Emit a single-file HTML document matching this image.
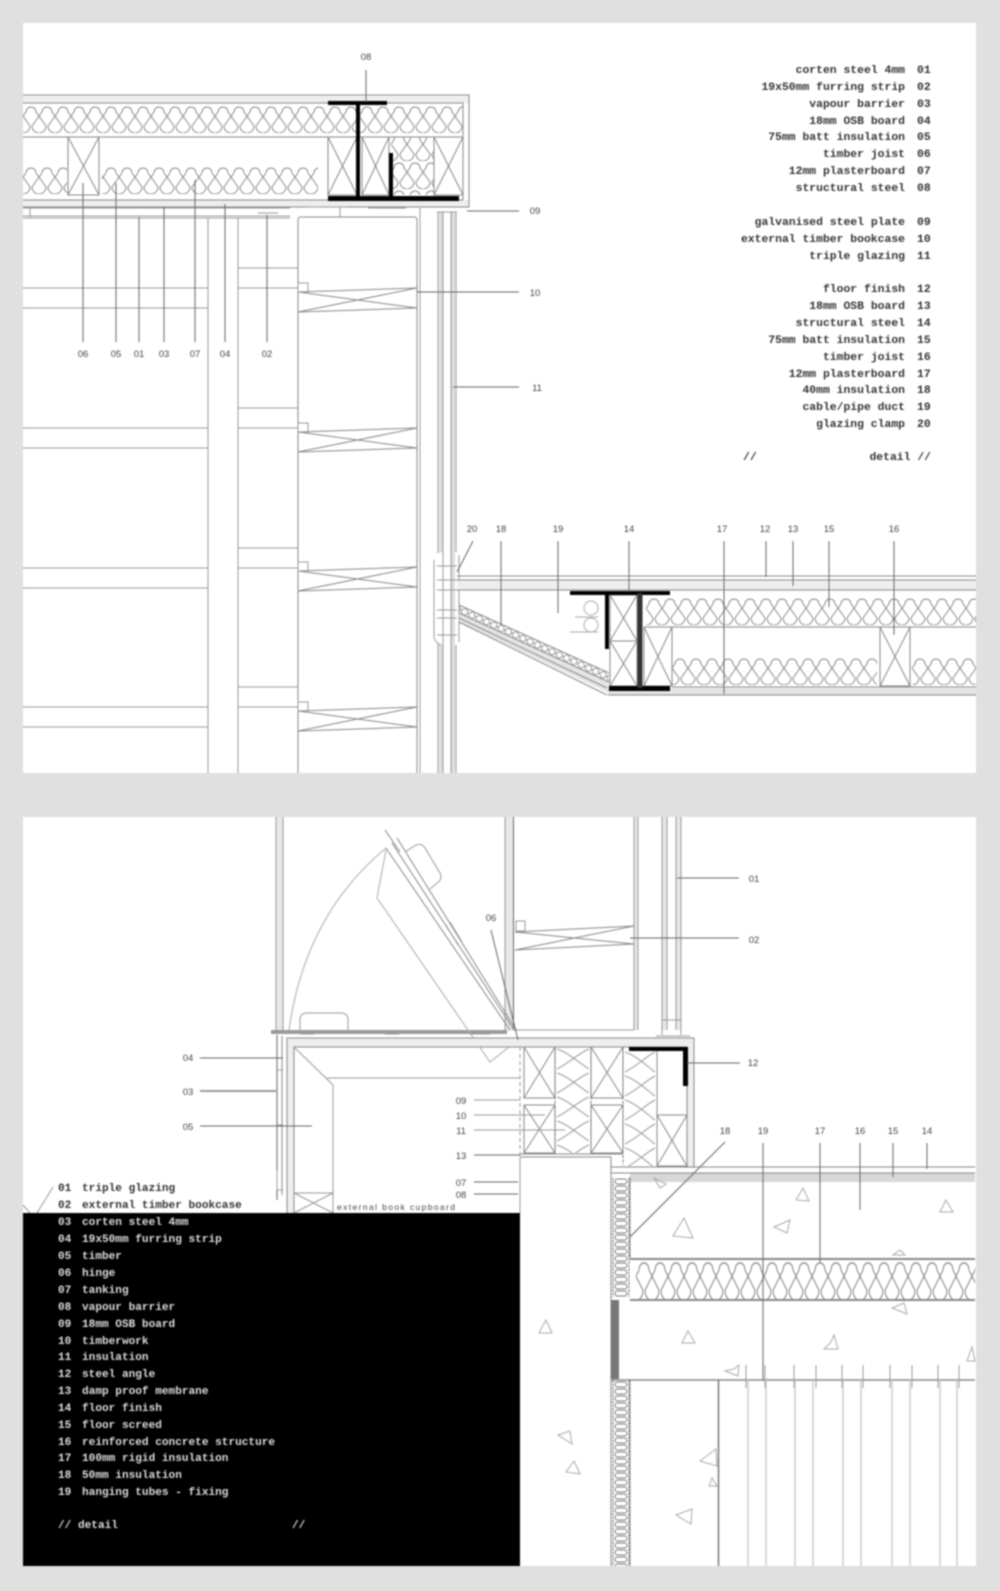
<!DOCTYPE html>
<html><head><meta charset="utf-8"><style>
html,body{margin:0;padding:0;background:#e0e0e0;width:1000px;height:1591px;overflow:hidden}
svg{display:block;filter:blur(.8px)}
text{font-family:"Liberation Mono",monospace;font-size:11.4px;fill:#333;font-weight:bold}
.n{font-family:"Liberation Sans",sans-serif;font-size:9.5px;fill:#444;font-weight:normal;text-anchor:middle}
.w text,text.w{fill:#ddd;font-size:11.1px}
.l{stroke:#666;stroke-width:1;fill:none}
.g{stroke:#999;stroke-width:1;fill:none}
.d{stroke:#888;stroke-width:1;fill:none}
.t{stroke:#aaa;stroke-width:1;fill:none}
.b{fill:#000}
</style></head><body>
<svg width="1000" height="1591" viewBox="0 0 1000 1591" xmlns="http://www.w3.org/2000/svg">
<defs>
<pattern id="p" width="16" height="28" patternUnits="userSpaceOnUse"><path d="M3,7A5,5 0 0 1 13,7M-7,21A7,7 0 0 0 7,21M9,21A7,7 0 0 0 23,21M13,7L23,21M19,7L9,21M-3,7L7,21M3,7L-7,21" fill="none" stroke="#888" stroke-width="1"/></pattern>
<pattern id="p1" href="#p" patternTransform="translate(23,105)"/>
<pattern id="p2" href="#p" patternTransform="translate(23,166)"/>
<pattern id="p3" href="#p" patternTransform="translate(646,597)"/>
<pattern id="p4" href="#p" patternTransform="translate(672,657)"/>
<pattern id="p5" href="#p" patternTransform="translate(636,1260) scale(1,1.45)"/>
<pattern id="z" width="36" height="24" patternUnits="userSpaceOnUse" patternTransform="translate(555,1047)"><path d="M2,2C14,6 24,16 34,22M34,2C24,6 14,16 2,22" fill="none" stroke="#999"/></pattern>
<pattern id="z2" width="34" height="24" patternUnits="userSpaceOnUse" patternTransform="translate(623,1050)"><path d="M2,2C14,6 24,16 32,22M32,2C24,6 14,16 2,22" fill="none" stroke="#999"/></pattern>
<pattern id="s" width="18" height="7" patternUnits="userSpaceOnUse" patternTransform="translate(612,1178)"><rect x="3" y="1" width="12" height="5" rx="2.5" fill="none" stroke="#777"/><path d="M1 0V7M17 0V7" stroke="#777" stroke-dasharray="2 1"/></pattern>
<pattern id="h" width="8" height="8" patternUnits="userSpaceOnUse" patternTransform="translate(459,605) rotate(24.4)"><path d="M0,0L8,8M8,0L0,8" stroke="#999" fill="none"/></pattern>
<g id="j"><path class="d" d="M298 292L417 288M298 312L417 308M298 292L417 308M298 312L417 288"/><path class="g" d="M298 283h10v9h-10z"/></g>
<g id="bay"><path class="g" d="M23 288H208M23 308H208M238 288H298M238 268H298"/></g>
<clipPath id="c1"><rect x="23" y="23" width="953" height="750"/></clipPath>
</defs>
<rect width="1000" height="1591" fill="#e0e0e0"/>
<rect x="23" y="23" width="953" height="750" fill="#fff"/>
<rect x="23" y="817" width="953" height="749" fill="#fff"/>

<!-- TOP PANEL -->
<g clip-path="url(#c1)">
<path d="M23 96H469V103H23z" fill="#eee"/>
<path d="M23 200H469V207H23z" fill="#eee"/>
<path class="d" d="M23 95H469V207H23M23 103H463V200H23M23 137H463"/>
<rect x="23" y="105" width="440" height="29" fill="url(#p1)"/>
<rect x="23" y="166" width="44" height="29" fill="url(#p2)"/>
<rect x="102" y="166" width="216" height="29" fill="url(#p2)"/>
<rect x="391" y="137" width="43" height="58" fill="url(#p1)"/>
<path class="d" d="M68 137H99V195H68zM68 137L99 195M99 137L68 195"/>
<path class="d" d="M328 137H357V195H328zM328 137L357 195M357 137L328 195M362 137H389V195H362zM362 137L389 195M389 137L362 195M434 137H463V195H434zM434 137L463 195M463 137L434 195"/>
<path class="b" d="M328 101H387V105H328zM356 105H360V196H356zM389 153H393V196H389zM328 196H459V201H328z"/>
<path class="g" d="M23 208H290M23 216H290M23 218H290M30 208V217M258 208h20M258 213h20M306 207h40M340 207v10M368 208h38"/>
<path class="g" d="M208 218V773M238 218V773"/>
<use href="#bay"/><use href="#bay" y="140"/><use href="#bay" y="280"/><use href="#bay" y="419"/>
<path class="d" d="M298 773V220Q298 217 301 217H414Q417 217 417 220V773"/><path class="g" d="M420 208V773"/>
<use href="#j"/><use href="#j" y="140"/><use href="#j" y="279"/><use href="#j" y="419"/>
<path d="M439 212h4V773h-4zM451 212h4V773h-4z" fill="#ddd"/>
<path class="g" d="M438 212V773M443 212V773M451 212V773M456 212V773M437 212H457"/>
<path d="M434 557Q437 552 443 552V645Q437 645 434 640zM455 552H459V645H455z" fill="#fff"/>
<path class="g" d="M434 560V638Q436 643 441 645M459 555V642M437 566H457M437 580H457M437 590H457M437 610H457M437 618H457M437 635H457M443 552V645M451 552V645"/>
<path d="M457 580H976V590H457z" fill="#eee"/>
<path class="d" d="M457 576H976M457 580H976M457 590H976"/>
<rect x="646" y="597" width="330" height="29" fill="url(#p3)"/>
<path class="d" d="M644 627H976"/>
<rect x="672" y="657" width="205" height="29" fill="url(#p4)"/>
<rect x="912" y="657" width="64" height="29" fill="url(#p4)"/>
<path d="M608 688H976V695H608z" fill="#e4e4e4"/><path class="d" d="M672 687H976M608 695H976"/>
<path d="M459 605L609 673V682L459 613z" fill="url(#h)"/>
<path d="M459 613L609 682V693L459 622z" fill="#e4e4e4"/>
<path class="d" d="M459 605L609 673M459 613L609 682M459 618L607 688M459 622L607 695"/>
<path class="d" d="M880 627H910V686H880zM880 627L910 686M910 627L880 686"/>
<path class="d" d="M610 595H637V641H610zM610 595L637 641M637 595L610 641M610 641H637V686H610zM610 641L637 686M637 641L610 686M644 627H672V686H644zM644 627L672 686M672 627L644 686"/>
<path class="b" d="M570 591H670V595H570zM605 591H609V649H605zM609 686H670V691H609z"/><path d="M637.500 593H642.500V688H637.500z" fill="#333"/>
<circle cx="591" cy="608" r="7" class="t"/><circle cx="591" cy="625" r="7" class="t"/><path class="t" d="M575 617H598M570 632H598"/>
<!-- leaders top -->
<path class="l" d="M366 70V102M83 183V342M116 183V342M139 217V342M164 207V342M195 180V342M225 204V342M267 215V342"/>
<path class="l" d="M467 211H519M417 292H519M453 387H519"/>
<path class="l" d="M473 541L457 572M501 541V625M558 541V613M629 541V592M724 541V694M766 541V577M793 541V586M829 541V607M894 541V635"/>
</g>
<g class="n-g">
<text class="n" x="366" y="60">08</text><text class="n" x="83" y="357">06</text><text class="n" x="116" y="357">05</text><text class="n" x="139" y="357">01</text><text class="n" x="164" y="357">03</text><text class="n" x="195" y="357">07</text><text class="n" x="225" y="357">04</text><text class="n" x="267" y="357">02</text>
<text class="n" x="535" y="214">09</text><text class="n" x="535" y="296">10</text><text class="n" x="537" y="391">11</text>
<text class="n" x="472" y="532">20</text><text class="n" x="501" y="532">18</text><text class="n" x="558" y="532">19</text><text class="n" x="629" y="532">14</text><text class="n" x="722" y="532">17</text><text class="n" x="765" y="532">12</text><text class="n" x="793" y="532">13</text><text class="n" x="829" y="532">15</text><text class="n" x="894" y="532">16</text>
</g>
<g text-anchor="end">
<text x="905" y="73">corten steel 4mm</text>
<text x="905" y="90">19x50mm furring strip</text>
<text x="905" y="107">vapour barrier</text>
<text x="905" y="124">18mm OSB board</text>
<text x="905" y="140">75mm batt insulation</text>
<text x="905" y="157">timber joist</text>
<text x="905" y="174">12mm plasterboard</text>
<text x="905" y="191">structural steel</text>
<text x="905" y="225">galvanised steel plate</text>
<text x="905" y="242">external timber bookcase</text>
<text x="905" y="259">triple glazing</text>
<text x="905" y="292">floor finish</text>
<text x="905" y="309">18mm OSB board</text>
<text x="905" y="326">structural steel</text>
<text x="905" y="343">75mm batt insulation</text>
<text x="905" y="360">timber joist</text>
<text x="905" y="377">12mm plasterboard</text>
<text x="905" y="393">40mm insulation</text>
<text x="905" y="410">cable/pipe duct</text>
<text x="905" y="427">glazing clamp</text>
<text x="931" y="460">detail //</text>
</g>
<g>
<text x="917" y="73">01</text><text x="917" y="90">02</text><text x="917" y="107">03</text><text x="917" y="124">04</text><text x="917" y="140">05</text><text x="917" y="157">06</text><text x="917" y="174">07</text><text x="917" y="191">08</text>
<text x="917" y="225">09</text><text x="917" y="242">10</text><text x="917" y="259">11</text>
<text x="917" y="292">12</text><text x="917" y="309">13</text><text x="917" y="326">14</text><text x="917" y="343">15</text><text x="917" y="360">16</text><text x="917" y="377">17</text><text x="917" y="393">18</text><text x="917" y="410">19</text><text x="917" y="427">20</text>
<text x="743" y="460">//</text>
</g>

<!-- BOTTOM PANEL -->
<path d="M276 817h7V1031h-7zM505 817h8V1031h-8zM634 817h4V1030h-4z" fill="#e8e8e8"/>
<path class="g" d="M276 817V1030M283 817V1030M505 817V1030"/><path class="l" d="M513.500 817V1030"/>
<path class="g" d="M634 817V1030M638 817V1030M513 1030H634"/>
<path class="d" d="M515 932L634 926M515 950L634 944M515 932L634 944M515 950L634 926"/><path class="g" d="M516 921h9v10h-9z"/>
<path d="M662 817h5V1030h-5zM676 817h5V1030h-5z" fill="#e6e6e6"/>
<path class="g" d="M662 817V1035M667 817V1030M676 817V1030M681 817V1035M662 1020H681M656 1036H690"/>
<!-- lid -->
<path class="t" d="M289 1030C300 950 335 890 386 848"/>
<path d="M271 1030H507V1034H271z" fill="#999"/>
<path class="g" d="M300 1032V1020Q300 1013 307 1013H341Q348 1013 348 1020V1032"/>
<path class="d" d="M386 848L510 1030M392 843L514 1030M397 838L516 1030M385 830L400 852"/>
<path class="g" d="M405 852L416 845Q422 843 425 848L440 873Q443 879 437 883L430 889"/>
<path class="t" d="M386 850L377 898L490 1062L514 1043"/>
<path class="g" d="M446 925L458 945M450 922L462 942"/>
<path class="g" d="M300 1034h14M385 1034h14M385 1040h14M470 1034h20"/>
<!-- box -->
<path d="M287 1038H694V1168H687V1047H294V1213H287z" fill="#eee"/>
<path class="l" d="M277 1035V1200"/><path class="d" d="M282 1036V1195M287 1213V1038H694V1168M294 1213V1047H687V1168"/>
<path class="g" d="M277 1070h6M277 1125h6M277 1170v20h6"/>
<path class="g" d="M294 1047L333 1085V1213M327 1078H520M294 1193H333M294 1193L333 1213M333 1193L294 1213"/>
<text x="337" y="1210" style="font-family:'Liberation Sans',sans-serif;font-size:8.500px;font-weight:normal;fill:#444" textLength="118">external book cupboard</text>
<!-- stack -->
<path class="g" d="M520 1047V1157" stroke-dasharray="4 3"/>
<rect x="555" y="1047" width="36" height="106" fill="url(#z)"/>
<rect x="623" y="1050" width="34" height="116" fill="url(#z2)"/>
<path class="d" d="M524 1047H555V1098H524zM524 1047L555 1098M555 1047L524 1098M524 1105H555V1153H524zM524 1105L555 1153M555 1105L524 1153M591 1047H623V1098H591zM591 1047L623 1098M623 1047L591 1098M591 1105H623V1153H591zM591 1105L623 1153M623 1105L591 1153M520 1154H623"/>
<path d="M555 1047V1153M591 1047V1153M623 1047V1165" stroke="#777" fill="none" stroke-dasharray="3 1.500"/>
<path class="d" d="M657 1050V1166M657 1115H687V1166H657zM657 1115L687 1166M687 1115L657 1166"/>
<path class="b" d="M629 1047H687V1051H629z"/><path class="b" d="M683 1047H688V1086H683z"/>
<!-- wall + floor -->
<path class="d" d="M520 1157H611V1566"/><path class="g" d="M520 1157V1213"/>
<path d="M630 1173H975V1182H630z" fill="#d8d8d8"/>
<path class="d" d="M611 1167H975M611 1173H975"/>
<rect x="612" y="1178" width="18" height="119" fill="url(#s)"/>
<rect x="612" y="1380" width="18" height="186" fill="url(#s)"/>
<path class="d" d="M630 1177V1258M630 1380V1566"/>
<path d="M630 1259H975M630 1300H975" stroke="#888" stroke-width="2" fill="none"/>
<rect x="636" y="1261" width="339" height="39" fill="url(#p5)"/>
<path d="M611 1300H619V1379H611z" fill="#777"/>
<path d="M611 1380H975" stroke="#888" stroke-width="1.500"/>
<path d="M718.500 1380V1566" stroke="#777" stroke-width="1.500"/>
<path d="M748 1380V1566M766 1380V1566M795 1380V1566M813 1380V1566M843 1380V1566M861 1380V1566M892 1380V1566M910 1380V1566M940 1380V1566M957 1380V1566" stroke="#ccc" stroke-width="1.500" fill="none"/>
<path class="g" d="M746 1365V1388M765 1365V1388M794 1365V1388M816 1365V1388M842 1365V1388M863 1365V1388M890 1365V1388M912 1365V1388M938 1365V1388M959 1365V1388"/>
<path class="t" d="M684 1218L673 1236L693 1238zM803 1188L796 1200L809 1201zM946 1200L940 1212L953 1212zM774 1227L790 1220L787 1233zM546 1320L539 1333L552 1333zM688 1331L682 1343L695 1343zM831 1342L824 1349L838 1349L834 1335zM904 1303L892 1308L907 1314zM972 1347L967 1361L975 1361zM558 1435L570 1431L572 1444zM574 1461L566 1472L580 1474zM716 1449L700 1461L717 1466zM712 1478L709 1486H717zM676 1515L692 1509L691 1524zM734 1369L725 1371L738 1376L739 1365zM654 1178L660 1188L666 1184zM893 1255L900 1250L905 1255z"/>
<path class="g" d="M53 1187L37 1213M23 1205L30 1213"/>
<!-- leaders bottom -->
<path class="l" d="M677 878H739M630 938H739M491 930L518 1040M687 1063H740"/>
<path class="l" d="M200 1058H283M200 1126H312"/><path d="M200 1091H276" stroke="#999" stroke-width="2"/>
<path class="g" d="M474 1100H520M474 1115H545M474 1130H565"/>
<path class="l" d="M474 1155H520M474 1182H518M474 1194H518"/>
<path class="l" d="M725 1142L630 1237M763 1143V1380M820 1143V1262M860 1143V1210M893 1143V1177M927 1143V1169"/>
<text class="n" x="754" y="882">01</text><text class="n" x="754" y="943">02</text><text class="n" x="491" y="921">06</text><text class="n" x="753" y="1066">12</text>
<text class="n" x="188" y="1061">04</text><text class="n" x="188" y="1095">03</text><text class="n" x="188" y="1130">05</text>
<text class="n" x="461" y="1104">09</text><text class="n" x="461" y="1119">10</text><text class="n" x="461" y="1134">11</text><text class="n" x="461" y="1159">13</text><text class="n" x="461" y="1186">07</text><text class="n" x="461" y="1198">08</text>
<text class="n" x="725" y="1134">18</text><text class="n" x="763" y="1134">19</text><text class="n" x="820" y="1134">17</text><text class="n" x="860" y="1134">16</text><text class="n" x="893" y="1134">15</text><text class="n" x="927" y="1134">14</text>
<rect x="23" y="1213" width="497" height="353" fill="#000"/>
<text x="58" y="1191" style="font-size:11.1px">01</text><text x="82" y="1191" style="font-size:11.1px">triple glazing</text>
<text x="58" y="1208" style="font-size:11.1px">02</text><text x="82" y="1208" style="font-size:11.1px">external timber bookcase</text>
<g class="w">
<text x="58" y="1225">03</text><text x="82" y="1225">corten steel 4mm</text>
<text x="58" y="1242">04</text><text x="82" y="1242">19x50mm furring strip</text>
<text x="58" y="1259">05</text><text x="82" y="1259">timber</text>
<text x="58" y="1276">06</text><text x="82" y="1276">hinge</text>
<text x="58" y="1293">07</text><text x="82" y="1293">tanking</text>
<text x="58" y="1310">08</text><text x="82" y="1310">vapour barrier</text>
<text x="58" y="1327">09</text><text x="82" y="1327">18mm OSB board</text>
<text x="58" y="1344">10</text><text x="82" y="1344">timberwork</text>
<text x="58" y="1360">11</text><text x="82" y="1360">insulation</text>
<text x="58" y="1377">12</text><text x="82" y="1377">steel angle</text>
<text x="58" y="1394">13</text><text x="82" y="1394">damp proof membrane</text>
<text x="58" y="1411">14</text><text x="82" y="1411">floor finish</text>
<text x="58" y="1428">15</text><text x="82" y="1428">floor screed</text>
<text x="58" y="1445">16</text><text x="82" y="1445">reinforced concrete structure</text>
<text x="58" y="1461">17</text><text x="82" y="1461">100mm rigid insulation</text>
<text x="58" y="1478">18</text><text x="82" y="1478">50mm insulation</text>
<text x="58" y="1495">19</text><text x="82" y="1495">hanging tubes - fixing</text>
<text x="58" y="1528">// detail</text>
<text x="292" y="1528">//</text>
</g>
</svg>
</body></html>
